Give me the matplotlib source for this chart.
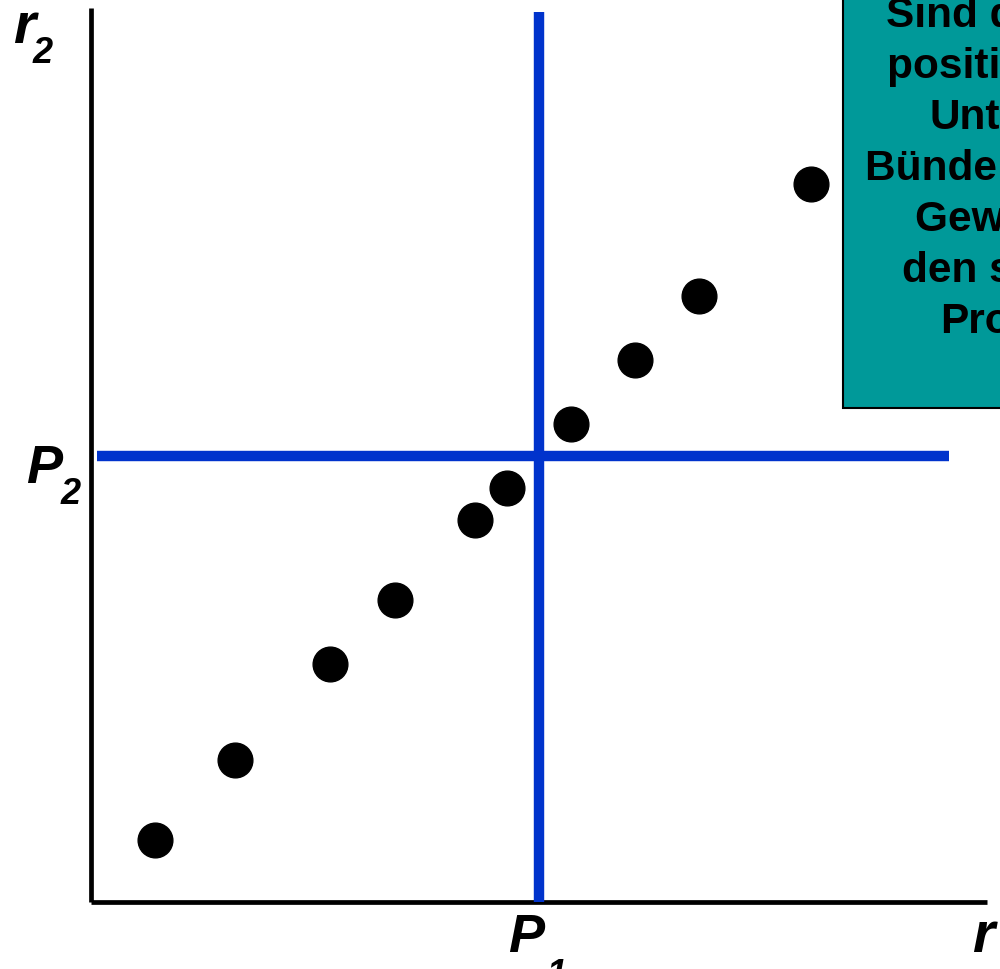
import matplotlib
matplotlib.use("Agg")
import matplotlib.pyplot as plt
from matplotlib.patches import Rectangle

# returns of the two units (r1, r2), origin at the axis corner
r1 = [64, 144, 239, 304, 384, 416, 480, 544, 608, 720]
r2 = [62, 142, 238, 302, 382, 414, 478, 542, 606, 718]
P1, P2 = 448, 446

BOX_LINES = ["Sind die Renditen", "positiv korreliert,", "Unternehmens-",
             "Bündelung bringt", "Gewinn für", "den sicheren", "Prozess"]

BLUE = "#0033CC"
TEAL = "#009999"
FONT = "Liberation Sans"

fig = plt.figure(figsize=(10, 9.7), dpi=100)
ax = fig.add_axes([0, 0, 1, 1])
ax.set_xlim(-91, 909)
ax.set_ylim(-67, 903)
ax.axis("off")

# axes
ax.plot([0, 0], [0, 894], color="black", lw=3.4, solid_capstyle="butt", zorder=2)
ax.plot([0, 896], [0, 0], color="black", lw=3.4, solid_capstyle="butt", zorder=2)

# mean lines
ax.plot([P1, P1], [0, 890], color=BLUE, lw=7.5, solid_capstyle="butt", zorder=3)
ax.plot([6, 858], [P2, P2], color=BLUE, lw=7.5, solid_capstyle="butt", zorder=3)

ax.plot(r1, r2, "o", color="black", ms=25, ls="none", zorder=4)

# axis labels
lab = dict(family=FONT, weight="bold", style="italic", va="baseline", ha="left")
ax.text(13 - 91, 903 - 43, "r", fontsize=41, **lab)
ax.text(33 - 91, 903 - 63, "2", fontsize=26, **lab)
ax.text(26 - 91, 903 - 483, "P", fontsize=39, **lab)
ax.text(61 - 91, 903 - 504, "2", fontsize=26, **lab)
ax.text(508 - 91, 903 - 952, "P", fontsize=39, **lab)
ax.text(546 - 91, 903 - 985, "1", fontsize=26, **lab)
ax.text(972 - 91, 903 - 952, "r", fontsize=41, **lab)
ax.text(1002 - 91, 903 - 972, "1", fontsize=26, **lab)

# text box (cut at the right edge)
ax.add_patch(Rectangle((752, 494), 400, 500, facecolor=TEAL, edgecolor="black",
                       lw=1.5, zorder=5))
starts = [886, 887, 930, 865, 915, 902, 940]
for i, (s, line) in enumerate(zip(starts, BOX_LINES)):
    ax.text(s - 91, 903 - (27 + 51 * i), line, family=FONT, weight="bold",
            fontsize=30.5, ha="left", va="baseline", zorder=6)

fig.savefig("out.png", dpi=100)
